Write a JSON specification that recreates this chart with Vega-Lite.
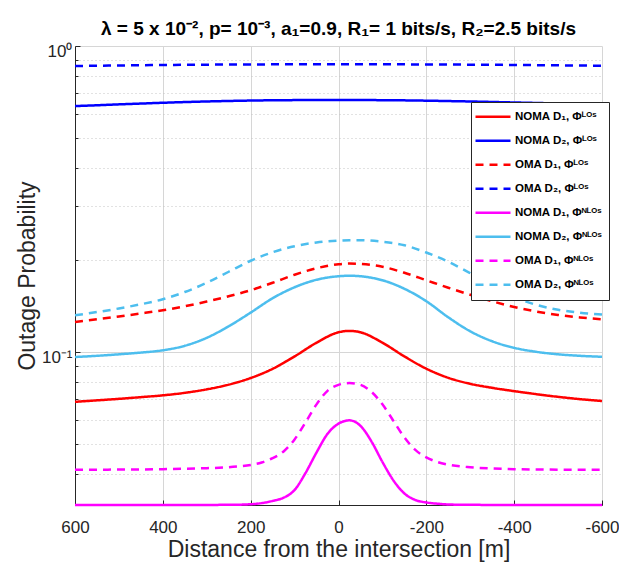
{
  "$schema": "https://vega.github.io/schema/vega-lite/v6.json",
  "autosize": {"type": "none"},
  "padding": {"left": 75, "top": 46, "right": 17, "bottom": 62},
  "width": 527,
  "height": 459,
  "background": "white",
  "config": {
    "view": {"stroke": null},
    "font": "Liberation Sans"
  },
  "title": {
    "text": "λ = 5 x 10⁻², p= 10⁻³, a₁=0.9, R₁= 1 bits/s, R₂=2.5 bits/s",
    "font": "Liberation Sans",
    "fontSize": 19,
    "fontWeight": "bold",
    "color": "#000000",
    "anchor": "middle",
    "offset": 3
  },
  "datasets": {
    "curves": [
      {"x": 600, "y": 0.06873, "s": "s1"}, {"x": 550, "y": 0.06950, "s": "s1"}, {"x": 500, "y": 0.07029, "s": "s1"}, {"x": 450, "y": 0.07120, "s": "s1"}, {"x": 400, "y": 0.07217, "s": "s1"}, {"x": 350, "y": 0.07354, "s": "s1"}, {"x": 300, "y": 0.07550, "s": "s1"}, {"x": 250, "y": 0.07823, "s": "s1"}, {"x": 200, "y": 0.08222, "s": "s1"}, {"x": 150, "y": 0.08811, "s": "s1"}, {"x": 100, "y": 0.09674, "s": "s1"}, {"x": 50, "y": 0.10725, "s": "s1"}, {"x": 0, "y": 0.11600, "s": "s1"}, {"x": -25, "y": 0.11723, "s": "s1"}, {"x": -50, "y": 0.11600, "s": "s1"}, {"x": -100, "y": 0.10725, "s": "s1"}, {"x": -150, "y": 0.09674, "s": "s1"}, {"x": -200, "y": 0.08818, "s": "s1"}, {"x": -250, "y": 0.08234, "s": "s1"}, {"x": -300, "y": 0.07871, "s": "s1"}, {"x": -350, "y": 0.07636, "s": "s1"}, {"x": -400, "y": 0.07449, "s": "s1"}, {"x": -450, "y": 0.07283, "s": "s1"}, {"x": -500, "y": 0.07136, "s": "s1"}, {"x": -550, "y": 0.07013, "s": "s1"}, {"x": -600, "y": 0.06915, "s": "s1"},

      {"x": 600, "y": 0.63635, "s": "s2"}, {"x": 550, "y": 0.64020, "s": "s2"}, {"x": 500, "y": 0.64455, "s": "s2"}, {"x": 450, "y": 0.64845, "s": "s2"}, {"x": 400, "y": 0.65236, "s": "s2"}, {"x": 350, "y": 0.65581, "s": "s2"}, {"x": 300, "y": 0.65879, "s": "s2"}, {"x": 250, "y": 0.66127, "s": "s2"}, {"x": 200, "y": 0.66327, "s": "s2"}, {"x": 150, "y": 0.66477, "s": "s2"}, {"x": 100, "y": 0.66552, "s": "s2"}, {"x": 50, "y": 0.66577, "s": "s2"}, {"x": 0, "y": 0.66577, "s": "s2"}, {"x": -25, "y": 0.66577, "s": "s2"}, {"x": -50, "y": 0.66577, "s": "s2"}, {"x": -100, "y": 0.66527, "s": "s2"}, {"x": -150, "y": 0.66426, "s": "s2"}, {"x": -200, "y": 0.66276, "s": "s2"}, {"x": -250, "y": 0.66077, "s": "s2"}, {"x": -300, "y": 0.65879, "s": "s2"}, {"x": -350, "y": 0.65631, "s": "s2"}, {"x": -400, "y": 0.65384, "s": "s2"}, {"x": -450, "y": 0.65139, "s": "s2"}, {"x": -500, "y": 0.64894, "s": "s2"}, {"x": -550, "y": 0.64650, "s": "s2"}, {"x": -600, "y": 0.64455, "s": "s2"},

      {"x": 600, "y": 0.12535, "s": "s3"}, {"x": 550, "y": 0.12793, "s": "s3"}, {"x": 500, "y": 0.13066, "s": "s3"}, {"x": 450, "y": 0.13364, "s": "s3"}, {"x": 400, "y": 0.13690, "s": "s3"}, {"x": 350, "y": 0.14108, "s": "s3"}, {"x": 300, "y": 0.14619, "s": "s3"}, {"x": 250, "y": 0.15214, "s": "s3"}, {"x": 200, "y": 0.15917, "s": "s3"}, {"x": 150, "y": 0.16836, "s": "s3"}, {"x": 100, "y": 0.17883, "s": "s3"}, {"x": 50, "y": 0.18779, "s": "s3"}, {"x": 0, "y": 0.19353, "s": "s3"}, {"x": -25, "y": 0.19455, "s": "s3"}, {"x": -50, "y": 0.19411, "s": "s3"}, {"x": -100, "y": 0.18992, "s": "s3"}, {"x": -150, "y": 0.18154, "s": "s3"}, {"x": -200, "y": 0.17158, "s": "s3"}, {"x": -250, "y": 0.16218, "s": "s3"}, {"x": -300, "y": 0.15387, "s": "s3"}, {"x": -350, "y": 0.14652, "s": "s3"}, {"x": -400, "y": 0.14023, "s": "s3"}, {"x": -450, "y": 0.13566, "s": "s3"}, {"x": -500, "y": 0.13214, "s": "s3"}, {"x": -550, "y": 0.12968, "s": "s3"}, {"x": -600, "y": 0.12793, "s": "s3"},

      {"x": 600, "y": 0.8600, "s": "s4"}, {"x": 550, "y": 0.8620, "s": "s4"}, {"x": 500, "y": 0.8638, "s": "s4"}, {"x": 450, "y": 0.8654, "s": "s4"}, {"x": 400, "y": 0.8668, "s": "s4"}, {"x": 350, "y": 0.8680, "s": "s4"}, {"x": 300, "y": 0.8690, "s": "s4"}, {"x": 250, "y": 0.8698, "s": "s4"}, {"x": 200, "y": 0.8704, "s": "s4"}, {"x": 150, "y": 0.8709, "s": "s4"}, {"x": 100, "y": 0.8712, "s": "s4"}, {"x": 50, "y": 0.8714, "s": "s4"}, {"x": 0, "y": 0.8714, "s": "s4"}, {"x": -25, "y": 0.8714, "s": "s4"}, {"x": -50, "y": 0.8714, "s": "s4"}, {"x": -100, "y": 0.8712, "s": "s4"}, {"x": -150, "y": 0.8709, "s": "s4"}, {"x": -200, "y": 0.8704, "s": "s4"}, {"x": -250, "y": 0.8698, "s": "s4"}, {"x": -300, "y": 0.8690, "s": "s4"}, {"x": -350, "y": 0.8681, "s": "s4"}, {"x": -400, "y": 0.8670, "s": "s4"}, {"x": -450, "y": 0.8658, "s": "s4"}, {"x": -500, "y": 0.8645, "s": "s4"}, {"x": -550, "y": 0.8632, "s": "s4"}, {"x": -600, "y": 0.8619, "s": "s4"},

      {"x": 600, "y": 0.03165, "s": "s5"}, {"x": 550, "y": 0.03165, "s": "s5"}, {"x": 500, "y": 0.03165, "s": "s5"}, {"x": 450, "y": 0.03165, "s": "s5"}, {"x": 400, "y": 0.03165, "s": "s5"}, {"x": 350, "y": 0.03165, "s": "s5"}, {"x": 300, "y": 0.03165, "s": "s5"}, {"x": 250, "y": 0.03166, "s": "s5"}, {"x": 200, "y": 0.03181, "s": "s5"}, {"x": 175, "y": 0.03207, "s": "s5"}, {"x": 150, "y": 0.03261, "s": "s5"}, {"x": 125, "y": 0.03340, "s": "s5"}, {"x": 100, "y": 0.03541, "s": "s5"}, {"x": 75, "y": 0.04025, "s": "s5"}, {"x": 50, "y": 0.04697, "s": "s5"}, {"x": 25, "y": 0.05401, "s": "s5"}, {"x": 0, "y": 0.05832, "s": "s5"}, {"x": -25, "y": 0.05979, "s": "s5"}, {"x": -50, "y": 0.05736, "s": "s5"}, {"x": -75, "y": 0.05104, "s": "s5"}, {"x": -100, "y": 0.04372, "s": "s5"}, {"x": -125, "y": 0.03805, "s": "s5"}, {"x": -150, "y": 0.03449, "s": "s5"}, {"x": -175, "y": 0.03284, "s": "s5"}, {"x": -200, "y": 0.03223, "s": "s5"}, {"x": -225, "y": 0.03194, "s": "s5"}, {"x": -250, "y": 0.03175, "s": "s5"}, {"x": -300, "y": 0.03166, "s": "s5"}, {"x": -350, "y": 0.03165, "s": "s5"}, {"x": -400, "y": 0.03165, "s": "s5"}, {"x": -450, "y": 0.03165, "s": "s5"}, {"x": -500, "y": 0.03165, "s": "s5"}, {"x": -550, "y": 0.03165, "s": "s5"}, {"x": -600, "y": 0.03165, "s": "s5"},

      {"x": 600, "y": 0.09630, "s": "s6"}, {"x": 550, "y": 0.09717, "s": "s6"}, {"x": 500, "y": 0.09828, "s": "s6"}, {"x": 450, "y": 0.09955, "s": "s6"}, {"x": 400, "y": 0.10129, "s": "s6"}, {"x": 350, "y": 0.10478, "s": "s6"}, {"x": 300, "y": 0.11127, "s": "s6"}, {"x": 250, "y": 0.12136, "s": "s6"}, {"x": 200, "y": 0.13451, "s": "s6"}, {"x": 150, "y": 0.14987, "s": "s6"}, {"x": 100, "y": 0.16277, "s": "s6"}, {"x": 50, "y": 0.17222, "s": "s6"}, {"x": 0, "y": 0.17682, "s": "s6"}, {"x": -25, "y": 0.17749, "s": "s6"}, {"x": -50, "y": 0.17682, "s": "s6"}, {"x": -100, "y": 0.17158, "s": "s6"}, {"x": -150, "y": 0.16094, "s": "s6"}, {"x": -200, "y": 0.14652, "s": "s6"}, {"x": -250, "y": 0.12980, "s": "s6"}, {"x": -300, "y": 0.11686, "s": "s6"}, {"x": -350, "y": 0.10839, "s": "s6"}, {"x": -400, "y": 0.10320, "s": "s6"}, {"x": -450, "y": 0.10015, "s": "s6"}, {"x": -500, "y": 0.09828, "s": "s6"}, {"x": -550, "y": 0.09717, "s": "s6"}, {"x": -600, "y": 0.09645, "s": "s6"},

      {"x": 600, "y": 0.04122, "s": "s7"}, {"x": 550, "y": 0.04125, "s": "s7"}, {"x": 500, "y": 0.04128, "s": "s7"}, {"x": 450, "y": 0.04131, "s": "s7"}, {"x": 400, "y": 0.04141, "s": "s7"}, {"x": 350, "y": 0.04153, "s": "s7"}, {"x": 300, "y": 0.04172, "s": "s7"}, {"x": 250, "y": 0.04204, "s": "s7"}, {"x": 200, "y": 0.04274, "s": "s7"}, {"x": 175, "y": 0.04356, "s": "s7"}, {"x": 150, "y": 0.04496, "s": "s7"}, {"x": 125, "y": 0.04732, "s": "s7"}, {"x": 100, "y": 0.05181, "s": "s7"}, {"x": 75, "y": 0.05890, "s": "s7"}, {"x": 50, "y": 0.06744, "s": "s7"}, {"x": 25, "y": 0.07466, "s": "s7"}, {"x": 0, "y": 0.07811, "s": "s7"}, {"x": -25, "y": 0.07917, "s": "s7"}, {"x": -50, "y": 0.07811, "s": "s7"}, {"x": -75, "y": 0.07410, "s": "s7"}, {"x": -100, "y": 0.06744, "s": "s7"}, {"x": -125, "y": 0.05957, "s": "s7"}, {"x": -150, "y": 0.05259, "s": "s7"}, {"x": -175, "y": 0.04786, "s": "s7"}, {"x": -200, "y": 0.04523, "s": "s7"}, {"x": -225, "y": 0.04372, "s": "s7"}, {"x": -250, "y": 0.04284, "s": "s7"}, {"x": -300, "y": 0.04201, "s": "s7"}, {"x": -350, "y": 0.04163, "s": "s7"}, {"x": -400, "y": 0.04141, "s": "s7"}, {"x": -450, "y": 0.04131, "s": "s7"}, {"x": -500, "y": 0.04125, "s": "s7"}, {"x": -550, "y": 0.04122, "s": "s7"}, {"x": -600, "y": 0.04122, "s": "s7"},

      {"x": 600, "y": 0.13184, "s": "s8"}, {"x": 550, "y": 0.13506, "s": "s8"}, {"x": 500, "y": 0.13876, "s": "s8"}, {"x": 450, "y": 0.14321, "s": "s8"}, {"x": 400, "y": 0.14872, "s": "s8"}, {"x": 350, "y": 0.15702, "s": "s8"}, {"x": 300, "y": 0.16836, "s": "s8"}, {"x": 250, "y": 0.18291, "s": "s8"}, {"x": 200, "y": 0.19868, "s": "s8"}, {"x": 150, "y": 0.21184, "s": "s8"}, {"x": 100, "y": 0.22163, "s": "s8"}, {"x": 50, "y": 0.22807, "s": "s8"}, {"x": 0, "y": 0.23118, "s": "s8"}, {"x": -25, "y": 0.23188, "s": "s8"}, {"x": -50, "y": 0.23188, "s": "s8"}, {"x": -100, "y": 0.22928, "s": "s8"}, {"x": -150, "y": 0.22331, "s": "s8"}, {"x": -200, "y": 0.21136, "s": "s8"}, {"x": -250, "y": 0.19719, "s": "s8"}, {"x": -300, "y": 0.18085, "s": "s8"}, {"x": -350, "y": 0.16462, "s": "s8"}, {"x": -400, "y": 0.15134, "s": "s8"}, {"x": -450, "y": 0.14267, "s": "s8"}, {"x": -500, "y": 0.13741, "s": "s8"}, {"x": -550, "y": 0.13434, "s": "s8"}, {"x": -600, "y": 0.13254, "s": "s8"}
    ]
  },
  "data": {"name": "curves"},
  "resolve": {"axis": {"x": "independent", "y": "independent"}},
  "layer": [
    {
      "mark": {"type": "line", "opacity": 0},
      "encoding": {
        "x": {
          "field": "x", "type": "quantitative",
          "scale": {"domain": [600, -600], "nice": false, "zero": false},
          "axis": {
            "orient": "bottom",
            "values": [600, 400, 200, 0, -200, -400, -600],
            "labels": false,
            "ticks": false,
            "domain": false,
            "title": null,
            "grid": true,
            "gridColor": "#d6d6d6",
            "gridWidth": 1
          }
        },
        "y": {
          "field": "y", "type": "quantitative",
          "scale": {"type": "log", "domain": [0.031623, 1], "nice": false},
          "axis": {
            "orient": "left",
            "values": [0.04, 0.05, 0.06, 0.07, 0.08, 0.09, 0.2, 0.3, 0.4, 0.5, 0.6, 0.7, 0.8, 0.9],
            "labels": false,
            "title": null,
            "domain": false,
            "ticks": true,
            "tickSize": -3,
            "tickColor": "#262626",
            "grid": true,
            "gridDash": [1, 3],
            "gridColor": "#c4c4c4",
            "gridWidth": 1
          }
        },
        "detail": {"field": "s"}
      }
    },
    {
      "mark": {"type": "line", "strokeWidth": 2.5, "interpolate": "monotone"},
      "encoding": {
        "x": {
          "field": "x", "type": "quantitative",
          "scale": {"domain": [600, -600], "nice": false, "zero": false},
          "axis": {
            "orient": "bottom",
            "values": [600, 400, 200, 0, -200, -400, -600],
            "labelExpr": "'' + datum.value",
            "title": "Distance from the intersection [m]",
            "titleFont": "Liberation Sans",
            "titleFontSize": 23,
            "titleFontWeight": "normal",
            "titleColor": "#262626",
            "titlePadding": 3,
            "labelFont": "Liberation Sans",
            "labelFontSize": 17,
            "labelColor": "#262626",
            "labelPadding": 19,
            "labelFlush": false,
            "tickSize": -5,
            "tickColor": "#262626",
            "domainColor": "#262626",
            "domainWidth": 1,
            "grid": false
          }
        },
        "y": {
          "field": "y", "type": "quantitative",
          "scale": {"type": "log", "domain": [0.031623, 1], "nice": false},
          "axis": {
            "orient": "left",
            "values": [0.1, 1],
            "labelExpr": "datum.value >= 0.5 ? '10⁰' : '10⁻¹'",
            "title": "Outage Probability",
            "titleFont": "Liberation Sans",
            "titleFontSize": 23,
            "titleFontWeight": "normal",
            "titleColor": "#262626",
            "titlePadding": 2,
            "labelFont": "Liberation Sans",
            "labelFontSize": 17,
            "labelColor": "#262626",
            "labelPadding": 8,
            "labelOffset": 5,
            "labelFlush": false,
            "tickSize": -5,
            "tickColor": "#262626",
            "domainColor": "#262626",
            "domainWidth": 1,
            "grid": true,
            "gridColor": "#d6d6d6",
            "gridWidth": 1
          }
        },
        "color": {
          "field": "s", "type": "nominal",
          "scale": {
            "domain": ["s1", "s2", "s3", "s4", "s5", "s6", "s7", "s8"],
            "range": ["#ff0000", "#0000ff", "#ff0000", "#0000ff", "#ff00ff", "#4dbeee", "#ff00ff", "#4dbeee"]
          },
          "legend": {
            "orient": "none",
            "legendX": 396,
            "legendY": 56,
            "title": null,
            "fillColor": "white",
            "strokeColor": "#262626",
            "padding": 3,
            "labelExpr": "{'s1': 'NOMA D₁,  Φᴸᴼˢ', 's2': 'NOMA D₂,  Φᴸᴼˢ', 's3': 'OMA D₁,  Φᴸᴼˢ', 's4': 'OMA D₂,  Φᴸᴼˢ', 's5': 'NOMA D₁,  Φᴺᴸᴼˢ', 's6': 'NOMA D₂,  Φᴺᴸᴼˢ', 's7': 'OMA D₁,  Φᴺᴸᴼˢ', 's8': 'OMA D₂,  Φᴺᴸᴼˢ'}[datum.label]",
            "labelFont": "Liberation Sans",
            "labelFontWeight": "bold",
            "labelFontSize": 11.5,
            "labelColor": "#000000",
            "labelOffset": 3,
            "labelLimit": 300,
            "symbolType": "stroke",
            "symbolSize": 1225,
            "symbolStrokeWidth": 2.5,
            "clipHeight": 23.7,
            "rowPadding": 0
          }
        },
        "strokeDash": {
          "field": "s", "type": "nominal",
          "scale": {
            "domain": ["s1", "s2", "s3", "s4", "s5", "s6", "s7", "s8"],
            "range": [[1, 0], [1, 0], [8, 6], [8, 6], [1, 0], [1, 0], [8, 6], [8, 6]]
          },
          "legend": null
        }
      }
    }
  ]
}
